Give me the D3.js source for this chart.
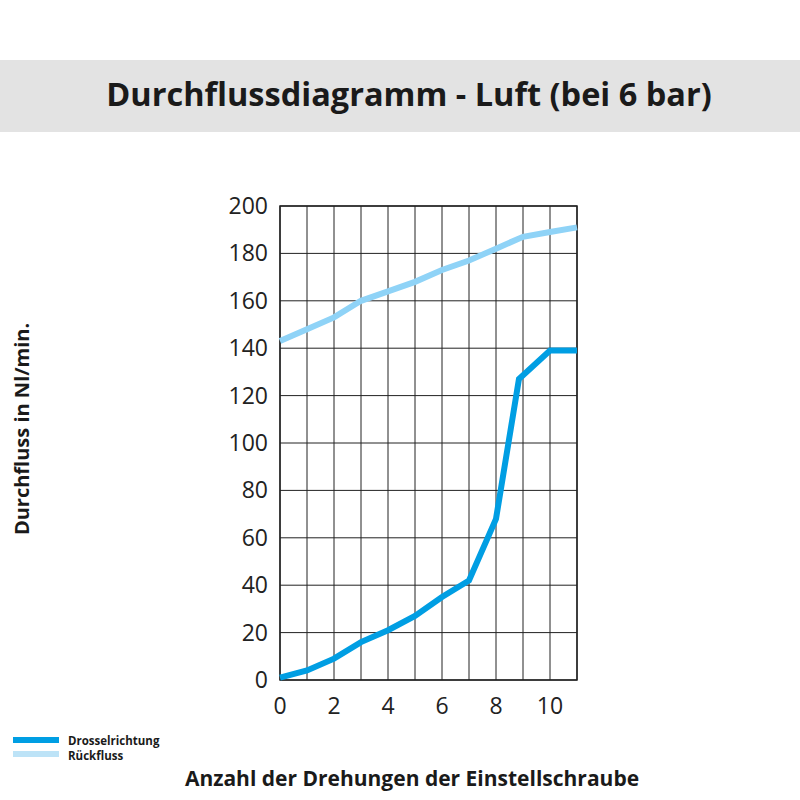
<!DOCTYPE html>
<html><head><meta charset="utf-8">
<script src="https://cdn.jsdelivr.net/npm/d3@7"></script>
<style>body{margin:0;background:#fff}text{font-family:"Open Sans",sans-serif}</style>
</head><body><svg id="c" width="800" height="800"></svg>
<script>
const drosselX = [0, 1, 2, 3, 4, 5, 6, 7, 8, 8.85, 10, 11]
const drosselY = [1, 4, 9, 16, 21, 27, 35, 42, 68, 127, 139, 139]
const rueckX = [0, 1, 2, 3, 4, 5, 6, 7, 8, 9, 10, 11]
const rueckY = [143, 148, 153, 160, 164, 168, 173, 177, 182, 187, 189, 191]
const xTicks = [0, 2, 4, 6, 8, 10]
const yTicks = [0, 20, 40, 60, 80, 100, 120, 140, 160, 180, 200]

const svg = d3.select('#c')
svg.append('rect').attr('x', 0).attr('y', 60).attr('width', 800).attr('height', 72).attr('fill', '#e3e3e3')
svg.append('text').attr('x', 409).attr('y', 106).attr('text-anchor', 'middle')
  .attr('font-size', 32.5).attr('font-weight', 'bold').attr('fill', '#1a1a1a')
  .text('Durchflussdiagramm - Luft (bei 6 bar)')

const x = d3.scaleLinear().domain([0, 11]).range([280, 577])
const y = d3.scaleLinear().domain([0, 200]).range([680, 206])
const g = svg.append('g')

g.selectAll('.vg').data(d3.range(0, 12)).join('line')
  .attr('x1', d => x(d)).attr('x2', d => x(d)).attr('y1', y(0)).attr('y2', y(200))
  .attr('stroke', '#222').attr('stroke-width', 1)
g.selectAll('.hg').data(yTicks).join('line')
  .attr('x1', x(0)).attr('x2', x(11)).attr('y1', d => y(d)).attr('y2', d => y(d))
  .attr('stroke', '#222').attr('stroke-width', 1)
g.append('rect').attr('x', x(0)).attr('y', y(200)).attr('width', x(11) - x(0)).attr('height', y(0) - y(200))
  .attr('fill', 'none').attr('stroke', '#222').attr('stroke-width', 1.5)

g.selectAll('.yl').data(yTicks).join('text')
  .attr('x', 268).attr('y', d => y(d) + 8).attr('text-anchor', 'end')
  .attr('font-size', 23).attr('fill', '#222').text(d => d)
g.selectAll('.xl').data(xTicks).join('text')
  .attr('x', d => x(d)).attr('y', 714).attr('text-anchor', 'middle')
  .attr('font-size', 23).attr('fill', '#222').text(d => d)

const line = d3.line().x(d => x(d[0])).y(d => y(d[1]))
g.append('path').datum(d3.zip(rueckX, rueckY)).attr('d', line)
  .attr('fill', 'none').attr('stroke', '#8fd3f7').attr('stroke-width', 6)
g.append('path').datum(d3.zip(drosselX, drosselY)).attr('d', line)
  .attr('fill', 'none').attr('stroke', '#009ee3').attr('stroke-width', 6)

svg.append('text').attr('transform', 'translate(29,429) rotate(-90)').attr('text-anchor', 'middle')
  .attr('font-size', 20).attr('font-weight', 'bold').attr('fill', '#1a1a1a').text('Durchfluss in Nl/min.')
svg.append('text').attr('x', 412).attr('y', 786).attr('text-anchor', 'middle')
  .attr('font-size', 21).attr('font-weight', 'bold').attr('fill', '#1a1a1a').text('Anzahl der Drehungen der Einstellschraube')

const legend = [['Drosselrichtung', '#009ee3'], ['Rückfluss', '#bde3f7']]
legend.forEach((l, i) => {
  svg.append('rect').attr('x', 13).attr('y', 737 + i * 14).attr('width', 46).attr('height', 6).attr('fill', l[1])
  svg.append('text').attr('x', 68).attr('y', 745 + i * 14.5).attr('font-size', 11.5).attr('font-weight', 'bold')
    .attr('fill', '#1a1a1a').text(l[0])
})
</script></body></html>
